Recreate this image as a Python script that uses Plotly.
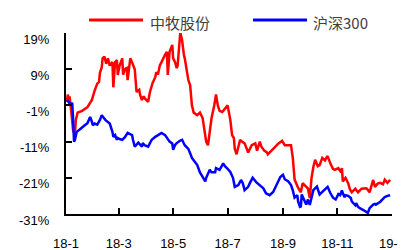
import plotly.graph_objects as go

# 中牧股份 (cumulative return, %)
zm_dates = ["2018-01-02","2018-01-03","2018-01-04","2018-01-05","2018-01-07","2018-01-09","2018-01-11","2018-01-12","2018-01-14","2018-01-19",
"2018-01-25","2018-01-28","2018-01-30","2018-02-02","2018-02-05","2018-02-07","2018-02-08","2018-02-10","2018-02-11","2018-02-13",
"2018-02-15","2018-02-17","2018-02-19","2018-02-22","2018-02-23","2018-02-25","2018-02-27","2018-02-28","2018-03-02","2018-03-05",
"2018-03-06","2018-03-08","2018-03-10","2018-03-11","2018-03-14","2018-03-15","2018-03-17","2018-03-19","2018-03-21","2018-03-24",
"2018-03-25","2018-03-27","2018-03-29","2018-03-30","2018-04-03","2018-04-05","2018-04-08","2018-04-11","2018-04-12","2018-04-14",
"2018-04-16","2018-04-18","2018-04-20","2018-04-22","2018-04-24","2018-04-25","2018-04-27","2018-04-30","2018-05-01","2018-05-03",
"2018-05-05","2018-05-06","2018-05-09","2018-05-11","2018-05-13","2018-05-14","2018-05-18","2018-05-20","2018-05-22","2018-05-24",
"2018-05-28","2018-05-31","2018-06-03","2018-06-07","2018-06-09","2018-06-11","2018-06-13","2018-06-16","2018-06-18","2018-06-20",
"2018-06-22","2018-06-25","2018-06-28","2018-07-01","2018-07-04","2018-07-06","2018-07-08","2018-07-09","2018-07-11","2018-07-15",
"2018-07-17","2018-07-20","2018-07-24","2018-07-26","2018-07-28","2018-08-01","2018-08-03","2018-08-06","2018-08-08","2018-08-11",
"2018-08-14","2018-08-15","2018-08-19","2018-08-21","2018-08-24","2018-08-27","2018-08-31","2018-09-03","2018-09-07","2018-09-10",
"2018-09-12","2018-09-14","2018-09-18","2018-09-21","2018-09-23","2018-09-26","2018-09-29","2018-10-01","2018-10-03","2018-10-05",
"2018-10-07","2018-10-10","2018-10-12","2018-10-15","2018-10-18","2018-10-20","2018-10-21","2018-10-24","2018-10-27","2018-10-29",
"2018-11-02","2018-11-05","2018-11-06","2018-11-07","2018-11-10","2018-11-13","2018-11-15","2018-11-17","2018-11-21","2018-11-24",
"2018-11-26","2018-11-28","2018-12-03","2018-12-04","2018-12-07","2018-12-10","2018-12-11","2018-12-13","2018-12-16","2018-12-19",
"2018-12-22","2018-12-24","2018-12-27","2018-12-30"]
zm_values = [0, 2.0, 0.5, 1.5, -3, -8, -9, -5, -3, -2.5,
-1.5, -0.5, 0.5, 3, 5, 5.5, 8, 9.5, 12, 12.5,
10.5, 12, 10, 11, 4, 11, 11.5, 7.4, 10, 12,
7.5, 9, 9.3, 6, 12, 11.5, 10, 9, 2.7, 3.3,
1.9, 0.5, 1.5, 1, 0, 2.7, 5.2, 6.8, 8.2, 7.5,
10, 11, 12.4, 13, 13.8, 7.4, 13.8, 15.7, 12, 11,
9.3, 10, 19.2, 17, 13, 12, 6, 4.6, -1, -3,
-3.7, -3, -4.5, -11, -12, -8, -4.5, -1, 2, -1,
-2.5, -2.8, -2, -1, -5, -9.2, -10, -13, -14.5, -10.5,
-11, -11.5, -14, -13, -12, -11.5, -13.5, -11, -12.5, -13.5,
-14, -14.5, -13.5, -13, -12.5, -11.5, -10.8, -12, -12, -12,
-15.5, -21.5, -23.8, -25, -22.5, -23.3, -24, -26.6, -21, -18,
-16, -17.8, -17.5, -15.5, -16.2, -15.3, -15, -17, -18.5, -18.8,
-18.3, -19.5, -18.3, -22, -21, -22.5, -24.2, -25, -24, -25,
-24.4, -24, -23.9, -24, -25, -22.5, -21.6, -23.5, -22.6, -22.4,
-22.8, -21.5, -22.4, -21.6]

# 沪深300 (cumulative return, %)
hs_dates = ["2018-01-02","2018-01-03","2018-01-05","2018-01-08","2018-01-09","2018-01-10","2018-01-11","2018-01-13","2018-01-17","2018-01-19",
"2018-01-22","2018-01-25","2018-01-28","2018-01-30","2018-01-31","2018-02-02","2018-02-05","2018-02-08","2018-02-10","2018-02-14",
"2018-02-17","2018-02-19","2018-02-22","2018-02-23","2018-02-25","2018-02-27","2018-02-28","2018-03-02","2018-03-05","2018-03-08",
"2018-03-11","2018-03-14","2018-03-16","2018-03-17","2018-03-19","2018-03-23","2018-03-25","2018-03-27","2018-03-28","2018-03-30",
"2018-04-03","2018-04-05","2018-04-07","2018-04-11","2018-04-14","2018-04-16","2018-04-18","2018-04-22","2018-04-25","2018-04-27",
"2018-04-30","2018-05-01","2018-05-03","2018-05-05","2018-05-09","2018-05-11","2018-05-14","2018-05-18","2018-05-20","2018-05-22",
"2018-05-25","2018-05-28","2018-05-31","2018-06-02","2018-06-06","2018-06-07","2018-06-09","2018-06-11","2018-06-13","2018-06-15",
"2018-06-17","2018-06-18","2018-06-20","2018-06-22","2018-06-25","2018-06-26","2018-06-28","2018-06-29","2018-07-01","2018-07-04",
"2018-07-07","2018-07-09","2018-07-13","2018-07-16","2018-07-18","2018-07-20","2018-07-24","2018-07-26","2018-07-29","2018-08-02",
"2018-08-06","2018-08-10","2018-08-13","2018-08-15","2018-08-17","2018-08-21","2018-08-24","2018-08-29","2018-09-01","2018-09-03",
"2018-09-07","2018-09-10","2018-09-12","2018-09-14","2018-09-17","2018-09-18","2018-09-20","2018-09-21","2018-09-22","2018-09-26",
"2018-09-27","2018-09-29","2018-10-01","2018-10-05","2018-10-08","2018-10-09","2018-10-12","2018-10-16","2018-10-19","2018-10-21",
"2018-10-24","2018-10-27","2018-10-30","2018-11-02","2018-11-04","2018-11-06","2018-11-07","2018-11-09","2018-11-10","2018-11-13",
"2018-11-16","2018-11-17","2018-11-21","2018-11-22","2018-11-24","2018-11-26","2018-11-30","2018-12-03","2018-12-05","2018-12-07",
"2018-12-11","2018-12-13","2018-12-14","2018-12-19","2018-12-21","2018-12-24","2018-12-27","2018-12-30"]
hs_values = [0, 0.2, -0.4, -0.5, -5, -11, -10.5, -8.3, -7.5, -7,
-6.5, -5.9, -4.2, -5.5, -6.5, -6, -6.3, -5, -3.7, -5,
-5.6, -6, -8.3, -9.7, -9.2, -10.5, -10, -10.3, -10.5, -9.8,
-8.6, -9, -9.2, -10.5, -12.4, -11.3, -12, -12.4, -11.4, -12,
-12.4, -11.5, -10.5, -9.7, -9.2, -9, -8.6, -9.2, -10.5, -11,
-11.5, -13.3, -12, -11.4, -10.7, -10.5, -12, -13, -14.2, -15.5,
-16.5, -17.5, -19.5, -20.3, -22, -21, -20, -18.8, -19.5, -19.4,
-19.5, -18.3, -18.5, -18.8, -17.5, -17, -17.8, -18, -18.5, -19.4,
-21, -23.5, -23, -21.6, -22.5, -24.4, -23.5, -22.4, -21, -22.2,
-23, -23.9, -25.3, -25.5, -25.8, -24.9, -23.5, -20.8, -20.2, -21.4,
-22, -23, -24.5, -26.5, -25.8, -27.6, -29, -28.9, -25.6, -28,
-28.4, -27, -28.5, -24.4, -23.5, -23.4, -25.6, -24.6, -24, -23.5,
-25.2, -26.5, -27, -25.5, -25.8, -24.5, -25.3, -26.4, -25.8, -26,
-26.6, -27.5, -28.6, -28, -29, -29.4, -29.9, -30.3, -30.7, -29.4,
-28.4, -28.2, -28.4, -27.6, -27, -26.3, -26, -25.8]

series_names = ["中牧股份", "沪深300"]
series_colors = ["#FF0000", "#0000FF"]

x_tick_vals = ["2018-01-01", "2018-03-01", "2018-05-01", "2018-07-01", "2018-09-01", "2018-11-01", "2019-01-01"]
x_tick_text = ["18-1", "18-3", "18-5", "18-7", "18-9", "18-11", "19-1"]
y_tick_vals = [-31, -21, -11, -1, 9, 19]
y_tick_text = [f"{v}%" for v in y_tick_vals]

fig = go.Figure()
fig.add_trace(go.Scatter(x=zm_dates, y=zm_values, mode="lines", name=series_names[0],
                         line=dict(color=series_colors[0], width=2.5)))
fig.add_trace(go.Scatter(x=hs_dates, y=hs_values, mode="lines", name=series_names[1],
                         line=dict(color=series_colors[1], width=2.5)))

# manual legend (line sample + label)
leg = [(0.0706, 0.2362, 0.2515), (0.5736, 0.7393, 0.7515)]
for (x0, x1, xt), name, col in zip(leg, series_names, series_colors):
    fig.add_shape(type="line", xref="paper", yref="paper", x0=x0, x1=x1, y0=1.072, y1=1.072,
                  line=dict(color=col, width=3))
    fig.add_annotation(xref="paper", yref="paper", x=xt, y=1.058, xanchor="left", yanchor="middle",
                       text=name, showarrow=False,
                       font=dict(family="Noto Sans CJK SC", size=15, color="#404040"))

# page body has an 8px margin: figure is sized/offset so the plot sits where the reference has it
fig.update_layout(
    width=398, height=242,
    margin=dict(l=58, r=14, t=25, b=36, autoexpand=False),
    paper_bgcolor="white", plot_bgcolor="white",
    showlegend=False,
    font=dict(family="Liberation Sans", size=13, color="#000000"),
)
fig.update_xaxes(type="date", range=["2018-01-01", "2019-01-01 02:00"],
                 tickvals=x_tick_vals, ticktext=x_tick_text,
                 showgrid=False, zeroline=False, automargin=False,
                 showline=True, linecolor="black", linewidth=2,
                 ticks="inside", ticklen=6, tickwidth=2, tickcolor="black",
                 ticklabelstandoff=16, ticklabeloverflow="allow")
fig.update_yaxes(range=[-31, 19], tickvals=y_tick_vals, ticktext=y_tick_text,
                 showgrid=False, zeroline=False, automargin=False,
                 showline=True, linecolor="black", linewidth=2,
                 ticks="inside", ticklen=6, tickwidth=2, tickcolor="black",
                 ticklabelstandoff=12, ticklabelshift=6)

fig.write_html("out.html")
